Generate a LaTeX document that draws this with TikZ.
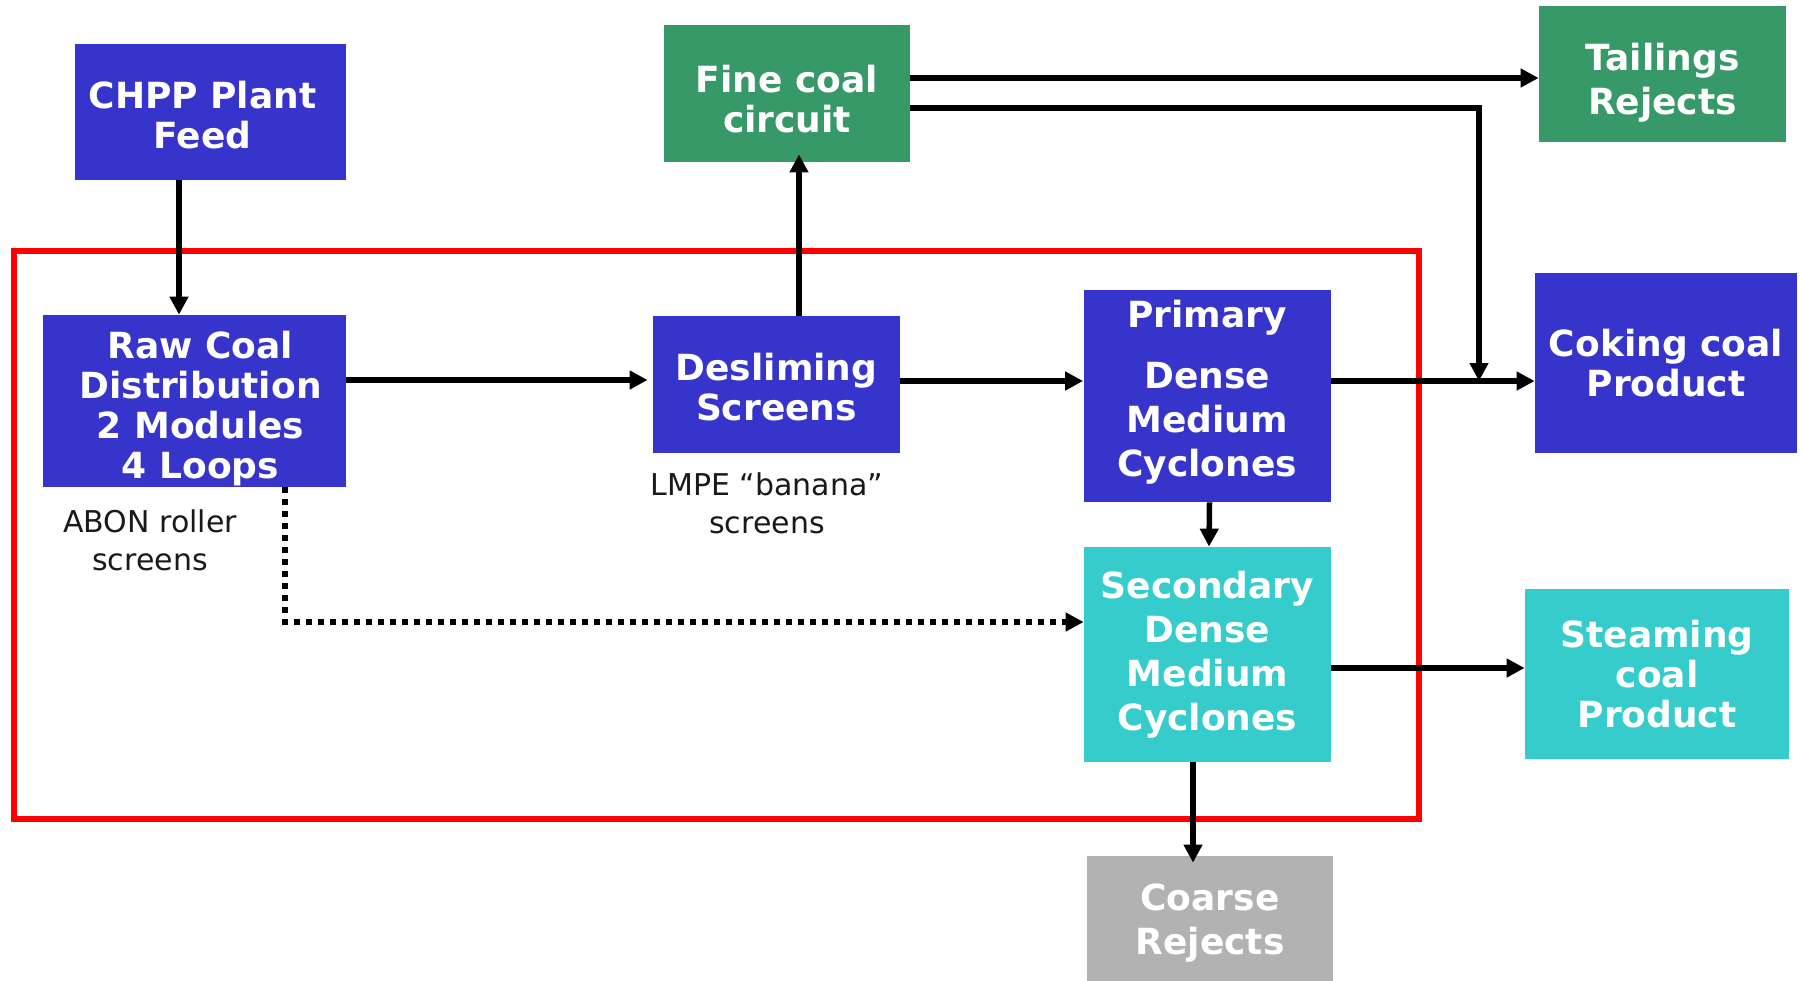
\documentclass[tikz,border=0pt]{standalone}
\usepackage{fontspec}
\setmainfont{DejaVu Sans}
\usetikzlibrary{arrows.meta}
\definecolor{unitblue}{RGB}{54,52,202}
\definecolor{finegreen}{RGB}{55,153,104}
\definecolor{steamcyan}{RGB}{54,204,204}
\definecolor{rejectgray}{RGB}{178,178,178}
\newcommand{\boxfont}{\bfseries\fontsize{18}{20}\selectfont}
\newcommand{\tallboxfont}{\bfseries\fontsize{18}{22}\selectfont}
\newcommand{\notefont}{\fontsize{15}{19}\selectfont}
\newcommand{\topgap}[1]{\rule{0pt}{#1}}
\begin{document}
\begin{tikzpicture}[line cap=butt,line join=miter,x=0.5pt,y=-0.5pt,
  unit/.style={rectangle,inner sep=0pt,text=white,align=center,font=\boxfont},
  tallunit/.style={unit,font=\tallboxfont},
  flow/.style={-{Triangle[length=9pt,width=9pt]},line width=2.75pt},
  dotflow/.style={flow,dash pattern=on 2.75pt off 3.25pt},
  note/.style={inner sep=0pt,align=center,font=\notefont,text=black!90}]
\useasboundingbox (0,0) rectangle (1802,980);
\clip (0,0) rectangle (1802,980);
\draw [red,line width=3pt] (13.5,251) rectangle (1419,819);
\node [unit,fill=unitblue,minimum width=135.5pt,minimum height=68pt] (feed) at (210.5,112) {\topgap{16.7pt}CHPP Plant\kern8pt\\Feed\kern8pt};
\node [unit,fill=finegreen,minimum width=123pt,minimum height=68.5pt] (fine) at (787,93.5) {\topgap{19.2pt}Fine coal\\circuit};
\node [tallunit,fill=finegreen,minimum width=123.5pt,minimum height=68pt] (tail) at (1662.5,74) {\topgap{22.7pt}Tailings\\Rejects};
\node [unit,fill=unitblue,minimum width=151.5pt,minimum height=86pt] (raw) at (194.5,401) {\topgap{21.7pt}\hspace{6pt}Raw Coal\\\hspace{6pt}Distribution\\\hspace{6pt}2 Modules\\\hspace{6pt}4 Loops};
\node [unit,fill=unitblue,minimum width=123.5pt,minimum height=68.5pt] (desl) at (776.5,384.5) {\topgap{16.7pt}Desliming\\Screens};
\node [tallunit,fill=unitblue,minimum width=123.5pt,minimum height=106pt] (prim) at (1207,396) {Primary\\[8.5pt]Dense\\Medium\\Cyclones\rule[-7.75pt]{0pt}{0pt}};
\node [unit,fill=unitblue,minimum width=131pt,minimum height=90pt] (coke) at (1666,363) {Coking coal\\Product};
\node [tallunit,fill=steamcyan,minimum width=123.5pt,minimum height=107.5pt] (sec) at (1207.5,654.5) {Secondary\\Dense\\Medium\\Cyclones};
\node [unit,fill=steamcyan,minimum width=132pt,minimum height=85pt] (steam) at (1657,674) {Steaming\\coal\\Product};
\node [tallunit,fill=rejectgray,minimum width=123pt,minimum height=67pt] (coarse) at (1210,923) {Coarse\\Rejects};
\node [note] (abon) at (150,540) {ABON roller\\screens};
\node [note] (lmpe) at (767,503) {LMPE “banana”\\screens};
\coordinate (join) at (1479,381);
\draw [flow] ([xshift=-15.75pt]feed.south) -- ([xshift=-7.75pt]raw.north);
\draw [flow,shorten >=2.5pt] ([yshift=10.5pt]raw.east) -- ([yshift=2.25pt]desl.west);
\draw [flow,shorten >=-4pt] ([xshift=11.25pt]desl.north) -- ([xshift=6pt]fine.south);
\draw [flow] ([yshift=7.75pt]fine.east) -- ([yshift=-2pt]tail.west);
\draw [flow] ([yshift=-7.25pt]fine.east) -| (join);
\draw [flow] ([yshift=1.75pt]desl.east) -- ([yshift=7.5pt]prim.west);
\draw [flow] ([yshift=7.5pt]prim.east) -- ([yshift=-9pt]coke.west);
\draw [flow] ([xshift=1.25pt]prim.south) -- ([xshift=0.75pt]sec.north);
\draw [flow] ([yshift=-6.75pt]sec.east) -- ([yshift=3pt]steam.west);
\draw [flow,shorten >=-3.5pt] ([xshift=-7.25pt]sec.south) -- ([xshift=-8.5pt]coarse.north);
\draw [dotflow] ([xshift=45.25pt]raw.south) |- ([yshift=16.25pt]sec.west);
\end{tikzpicture}
\end{document}
